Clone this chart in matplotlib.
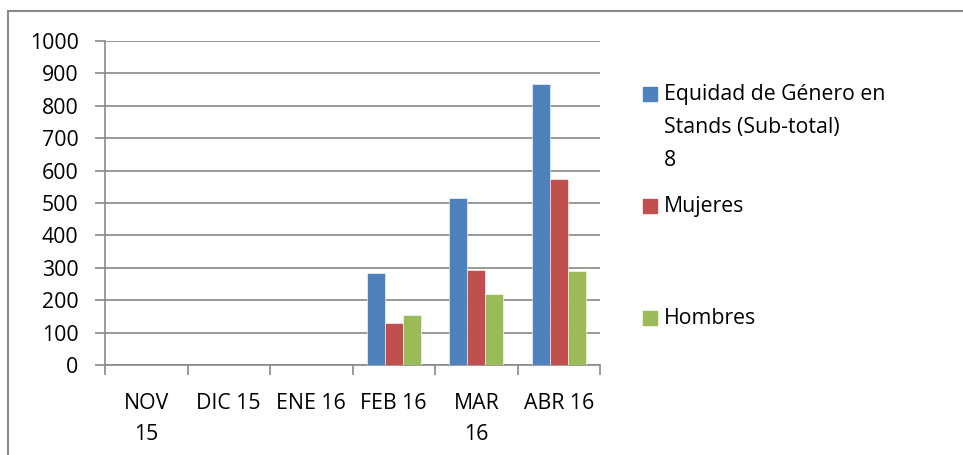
import matplotlib
matplotlib.use("Agg")
import matplotlib.pyplot as plt
from matplotlib.patches import Rectangle
import numpy as np

categories = ["NOV\n15", "DIC 15", "ENE 16", "FEB 16", "MAR\n16", "ABR 16"]
series_names = ["Equidad de Género en\nStands (Sub-total)\n8", "Mujeres", "Hombres"]
equidad = [0, 0, 0, 284, 515, 866]
mujeres = [0, 0, 0, 130, 294, 573]
hombres = [0, 0, 0, 153, 220, 290]
y_ticks = [0, 100, 200, 300, 400, 500, 600, 700, 800, 900, 1000]

colors = ["#4F81BD", "#C0504D", "#9BBB59"]
grid_c = "#898989"
FS = 15.3
plt.rcParams['font.family'] = ['Open Sans', 'DejaVu Sans']

W, H = 963, 455
fig = plt.figure(figsize=(W / 100, H / 100), dpi=100)
ax = fig.add_axes([105 / W, (H - 365) / H, (600 - 105) / W, (365 - 41) / H])

x = np.arange(len(categories))
bw = 0.22
for i, vals in enumerate([equidad, mujeres, hombres]):
    ax.bar(x + (i - 1) * bw, vals, width=bw, color=colors[i], edgecolor="white",
           linewidth=0.4, zorder=3)

ax.set_xlim(-0.5, len(categories) - 0.5)
ax.set_ylim(0, 1000)
ax.set_yticks(y_ticks)
ax.set_yticklabels([str(v) for v in y_ticks], fontsize=FS)
ax.yaxis.grid(True, color=grid_c, linewidth=1.2, zorder=0)
ax.set_axisbelow(True)

ax.set_xticks(x)
ax.set_xticklabels(categories, fontsize=FS, linespacing=1.65, va="top")
ax.set_xticks(np.arange(-0.5, len(categories)), minor=True)
ax.tick_params(axis="x", which="major", length=0, pad=20)
ax.tick_params(axis="x", which="minor", length=7, color=grid_c, width=1.2)
ax.tick_params(axis="y", length=7, color=grid_c, width=1.2, pad=12)

for s in ["top", "right"]:
    ax.spines[s].set_visible(False)
for s in ["left", "bottom"]:
    ax.spines[s].set_color(grid_c)
    ax.spines[s].set_linewidth(1.2)

# legend (manual layout)
leg_y = [94, 206, 318]
for i, (name, yy) in enumerate(zip(series_names, leg_y)):
    fig.patches.append(Rectangle((643 / W, (H - yy - 7) / H), 14 / W, 14 / H,
                                 transform=fig.transFigure, color=colors[i]))
    fig.text(664 / W, (H - yy + 10) / H, name, fontsize=FS, va="top", ha="left",
             linespacing=1.75)

# outer border
fig.patches.append(Rectangle((8 / W, -0.1), 1.2, (H - 11) / H + 0.1,
                             transform=fig.transFigure, fill=False,
                             edgecolor="#8a8a8a", linewidth=1.5))

fig.savefig("out.png", dpi=100)
